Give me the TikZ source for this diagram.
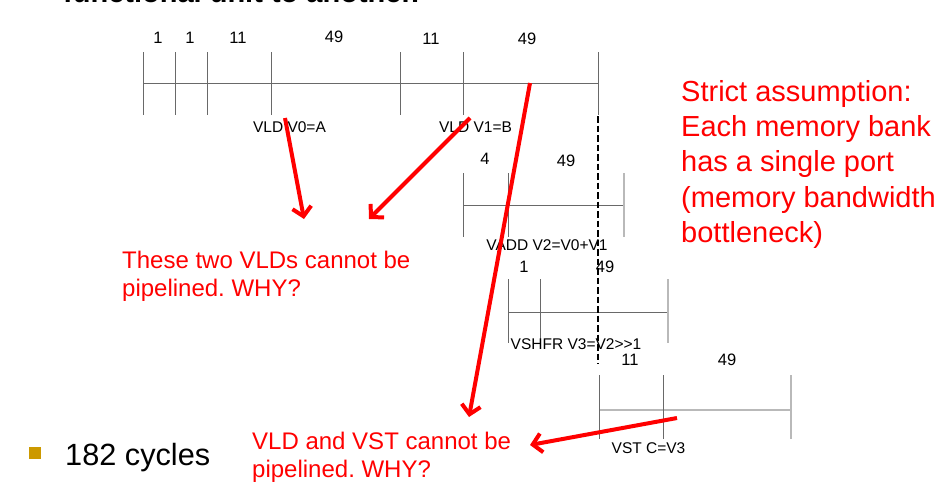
\documentclass[tikz,border=0pt]{standalone}
\usepackage{fontspec}
\setmainfont{Liberation Sans}
\usetikzlibrary{arrows.meta}
\definecolor{tickc}{RGB}{105,105,105}
\definecolor{ltickc}{RGB}{185,185,185}
\definecolor{bulletc}{RGB}{204,153,0}
\frenchspacing
\begin{document}
\begin{tikzpicture}[x=1pt,y=-1pt,
  tk/.style={draw=tickc,line width=1pt},
  ltk/.style={draw=ltickc,line width=1.6pt},
  num/.style={font=\fontsize{16.5}{19}\selectfont,inner sep=0pt},
  lab/.style={font=\fontsize{15.5}{18}\selectfont,inner sep=0pt,anchor=base},
  note/.style={text=red,font=\fontsize{24}{28}\selectfont,inner sep=0pt,anchor=base west},
  bignote/.style={text=red,font=\fontsize{29}{35}\selectfont,inner sep=0pt,anchor=base west},
  redarrow/.style={draw=red,line width=4pt,-{Straight Barb[length=9pt,width=19pt]}},
  dashline/.style={draw=black,line width=2.8pt,dash pattern=on 6.5pt off 3pt}
]
\useasboundingbox (0,0) rectangle (939,496);
\fill[white] (0,0) rectangle (939,496);
\begin{scope}
\clip (0,0) rectangle (939,496);
\node[font=\bfseries\fontsize{29}{34}\selectfont,inner sep=0pt,anchor=base west] (title) at (63,2.5) {functional unit to another.};
\end{scope}

% top timeline (VLD V0, VLD V1)
\draw[tk] (143,83) -- (598,83);
\foreach \x in {143,175,207,271,400,463,598} \draw[tk] (\x,52) -- (\x,115);
\node[num] (t1) at (158,38) {1};
\node[num] (t2) at (190,38) {1};
\node[num] (t3) at (238,38) {11};
\node[num] (t4) at (334,37) {49};
\node[num] (t5) at (431,39) {11};
\node[num] (t6) at (527,39) {49};
\node[lab] (vld0) at (289.5,132) {VLD V0=A};
\node[lab] (vld1) at (475.5,132) {VLD V1=B};

% VADD
\draw[tk] (463,205) -- (624,205);
\draw[tk] (463,173) -- (463,237);
\draw[tk] (508,173) -- (508,237);
\draw[ltk] (624,173) -- (624,237);
\node[num] (a1) at (485,159) {4};
\node[num] (a2) at (566,161) {49};
\node[lab] (vadd) at (547,250) {VADD V2=V0+V1};

% VSHFR
\draw[tk] (508,312) -- (668,312);
\draw[tk] (508,279) -- (508,343);
\draw[tk] (540,279) -- (540,343);
\draw[ltk] (668,279) -- (668,343);
\node[num] (s1) at (524,267) {1};
\node[num] (s2) at (605,267) {49};
\node[lab] (vshfr) at (576,349) {VSHFR V3=V2>{}>1};

% VST
\draw[ltk] (599,410) -- (791,410);
\draw[tk] (599,375) -- (599,439);
\draw[tk] (663,375) -- (663,439);
\draw[ltk] (791,375) -- (791,439);
\node[num] (v1) at (630,360) {11};
\node[num] (v2) at (727,360) {49};
\node[lab] (vst) at (648.5,453) {VST C=V3};

% dashed line
\coordinate (d1) at (598,116);
\coordinate (d2) at (598,364);
\draw[dashline] (d1) -- (d2);

% bullet + cycles
\fill[bulletc] (29,447) rectangle (41,459);
\node[font=\fontsize{30.7}{36}\selectfont,inner sep=0pt,anchor=base west] (cyc) at (65,465) {182 cycles};

% red notes
\node[note] (n1a) at (122,268) {These two VLDs cannot be};
\node[note] (n1b) at (122,296.5) {pipelined. WHY?};
\node[note] (n2a) at (252,449) {VLD and VST cannot be};
\node[note] (n2b) at (252,477) {pipelined. WHY?};
\node[bignote] (s1a) at (681,101) {Strict assumption:};
\node[bignote] (s1b) at (681,136.5) {Each memory bank};
\node[bignote] (s1c) at (681,171.5) {has a single port};
\node[bignote] (s1d) at (681,207) {(memory bandwidth};
\node[bignote] (s1e) at (681,242) {bottleneck)};

% red arrows
\coordinate (r1s) at (285,118); \coordinate (r1e) at (304,219);
\coordinate (r2s) at (470,118); \coordinate (r2e) at (369,219);
\coordinate (r3s) at (530,83);  \coordinate (r3e) at (469,417);
\coordinate (r4s) at (677,418); \coordinate (r4e) at (530,445);
\draw[redarrow] (r1s) -- (r1e);
\draw[redarrow] (r2s) -- (r2e);
\draw[redarrow] (r3s) -- (r3e);
\draw[redarrow] (r4s) -- (r4e);
\end{tikzpicture}
\end{document}
